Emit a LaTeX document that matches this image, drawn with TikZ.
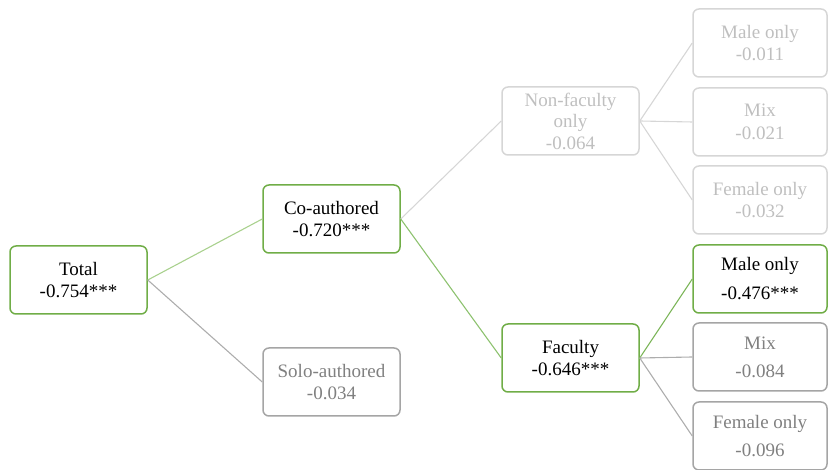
\documentclass[tikz,border=0pt]{standalone}
\usepackage{fontspec}
\setmainfont{Liberation Serif}
\definecolor{grn}{HTML}{70AD47}
\definecolor{grnA}{HTML}{A9D18E}
\definecolor{grnB}{HTML}{8DC26F}
\definecolor{grnC}{HTML}{7DB65A}
\definecolor{gry}{HTML}{A5A5A5}
\definecolor{glink}{HTML}{ADADAD}
\definecolor{gtx}{HTML}{808080}
\definecolor{lgry}{HTML}{D6D6D6}
\definecolor{ltx}{HTML}{BFBFBF}
\begin{document}
\begin{tikzpicture}[x=1pt,y=1pt,
  box/.style={draw, line width=1.5pt, rounded corners=6pt, align=center,
    inner sep=0pt, font=\fontsize{19}{22.5}\selectfont},
  wide/.style={box, minimum width=137pt, minimum height=68pt},
  narrow/.style={box, minimum width=134pt, minimum height=68pt},
  gbox/.style={draw=grn, text=black},
  sbox/.style={draw=gry, text=gtx},
  lbox/.style={draw=lgry, text=ltx},
  tall/.style={font=\fontsize{19}{29}\selectfont},
  link/.style={line width=1.1pt}
]
\useasboundingbox (0,0) rectangle (828,470);
\node[wide,gbox] (total) at (78.5,190) {Total\\-0.754***};
\node[wide,gbox] (co) at (331.5,251) {Co-authored\\-0.720***};
\node[wide,sbox] (solo) at (331.5,88) {Solo-authored\\-0.034};
\node[wide,lbox,font=\fontsize{19}{21.5}\selectfont] (nf) at (570.5,349) {Non-faculty\\only\\-0.064};
\node[wide,gbox] (fac) at (570.5,112) {Faculty\\-0.646***};
\node[narrow,lbox] (m1) at (760,427) {Male only\\-0.011};
\node[narrow,lbox] (x1) at (760,348) {Mix\\-0.021};
\node[narrow,lbox] (f1) at (760,270) {Female only\\-0.032};
\node[narrow,gbox,tall] (m2) at (760,191) {Male only\\-0.476***};
\node[narrow,sbox,font=\fontsize{19}{28}\selectfont] (x2) at (760,113) {Mix\\-0.084};
\node[narrow,sbox,font=\fontsize{19}{28}\selectfont] (f2) at (760,34) {Female only\\-0.096};
\draw[link,grnA] (total.east) -- (co.west);
\draw[link,glink] (total.east) -- (solo.west);
\draw[link,lgry] (co.east) -- (nf.west);
\draw[link,grnB] (co.east) -- (fac.west);
\draw[link,lgry] (nf.east) -- (m1.west);
\draw[link,lgry] (nf.east) -- (x1.west);
\draw[link,lgry] (nf.east) -- (f1.west);
\draw[link,grnC] (fac.east) -- (m2.west);
\draw[link,glink] (fac.east) -- (x2.west);
\draw[link,glink] (fac.east) -- (f2.west);
\end{tikzpicture}
\end{document}
